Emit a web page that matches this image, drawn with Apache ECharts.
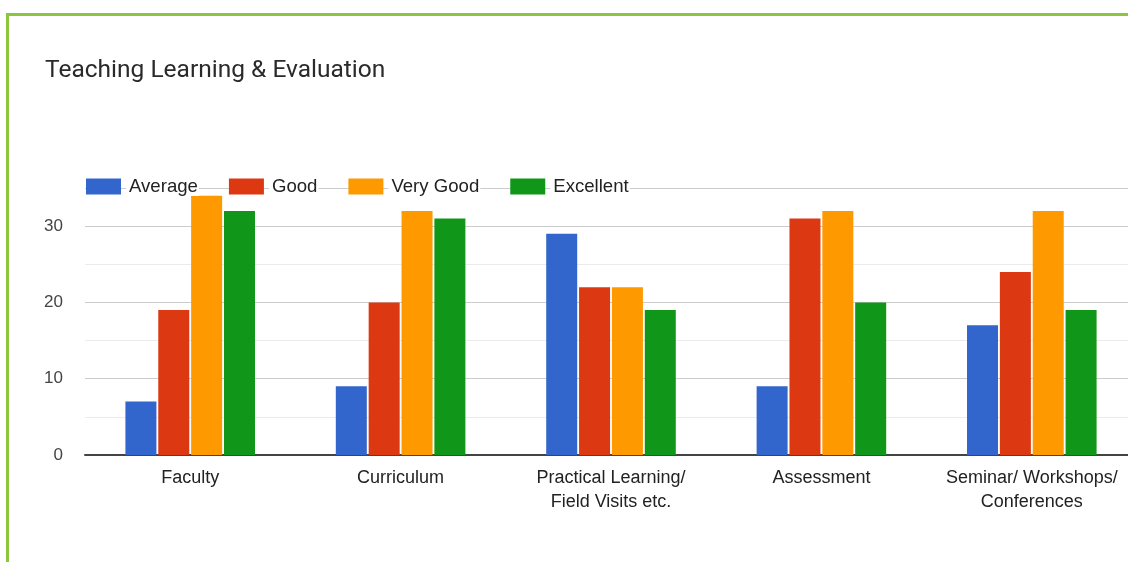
<!DOCTYPE html>
<html>
<head>
<meta charset="utf-8">
<title>Teaching Learning &amp; Evaluation</title>
<script src="https://cdn.jsdelivr.net/npm/echarts@6/dist/echarts.min.js"></script>
<style>
  html, body { margin: 0; padding: 0; background: #fff; overflow: hidden; }
  body { width: 1128px; height: 562px; }
  /* the plot runs slightly past the right edge of the window */
  #chart { width: 1140px; height: 562px; }
</style>
</head>
<body>
<div id="chart"></div>
<script>
// Survey categories (x axis)
const categories = [
  'Faculty',
  'Curriculum',
  'Practical Learning/\nField Visits etc.',
  'Assessment',
  'Seminar/ Workshops/\nConferences'
];

// Response counts per rating
const average   = [7, 9, 29, 9, 17];
const good      = [19, 20, 22, 31, 24];
const veryGood  = [34, 32, 22, 32, 32];
const excellent = [32, 31, 19, 20, 19];

const seriesNames = ['Average', 'Good', 'Very Good', 'Excellent'];
const seriesColors = ['#3366cc', '#dc3912', '#ff9900', '#109618'];

const chart = echarts.init(document.getElementById('chart'), null, { renderer: 'canvas' });

function bar(name, data, color) {
  return {
    name: name,
    type: 'bar',
    data: data,
    barWidth: 31,
    barGap: '6%',
    itemStyle: { color: color },
    emphasis: { disabled: true }
  };
}

const option = {
  animation: false,
  backgroundColor: '#ffffff',
  textStyle: { fontFamily: 'Liberation Sans, Arial, sans-serif' },
  graphic: [{
    type: 'polyline',
    silent: true,
    z: 100,
    shape: { points: [[7.5, 600], [7.5, 14.5], [1200, 14.5]] },
    style: { stroke: '#8cc63f', lineWidth: 3, fill: null }
  }],
  title: {
    text: 'Teaching Learning & Evaluation',
    left: 40,
    top: 53,
    textStyle: {
      fontFamily: 'Roboto, "Open Sans", sans-serif',
      fontSize: 24.5,
      fontWeight: 'normal',
      color: '#2a2a2a'
    }
  },
  legend: {
    data: seriesNames,
    left: 81,
    top: 172,
    itemWidth: 35,
    itemHeight: 16,
    itemGap: 30,
    icon: 'rect',
    textStyle: {
      fontSize: 18.6,
      color: '#222222',
      backgroundColor: '#ffffff',
      padding: [0, 1, 0, 3]
    }
  },
  grid: {
    left: 85,
    top: 188,
    width: 1052,
    height: 267,
    containLabel: false
  },
  xAxis: {
    type: 'category',
    data: categories,
    axisLine: { lineStyle: { color: '#444444', width: 2 } },
    axisTick: { show: false },
    axisLabel: {
      fontSize: 18,
      color: '#222222',
      margin: 11,
      lineHeight: 24,
      interval: 0
    }
  },
  yAxis: {
    type: 'value',
    min: 0,
    max: 35,
    interval: 10,
    axisLine: { show: false },
    axisTick: { show: false },
    axisLabel: {
      fontSize: 17,
      color: '#444444',
      margin: 22,
      showMaxLabel: false
    },
    splitLine: { lineStyle: { color: '#cccccc', width: 1 } },
    minorTick: { show: false, splitNumber: 2 },
    minorSplitLine: { show: true, lineStyle: { color: '#ebebeb', width: 1 } }
  },
  series: [
    bar(seriesNames[0], average, seriesColors[0]),
    bar(seriesNames[1], good, seriesColors[1]),
    bar(seriesNames[2], veryGood, seriesColors[2]),
    bar(seriesNames[3], excellent, seriesColors[3])
  ]
};

chart.setOption(option);
</script>
</body>
</html>
